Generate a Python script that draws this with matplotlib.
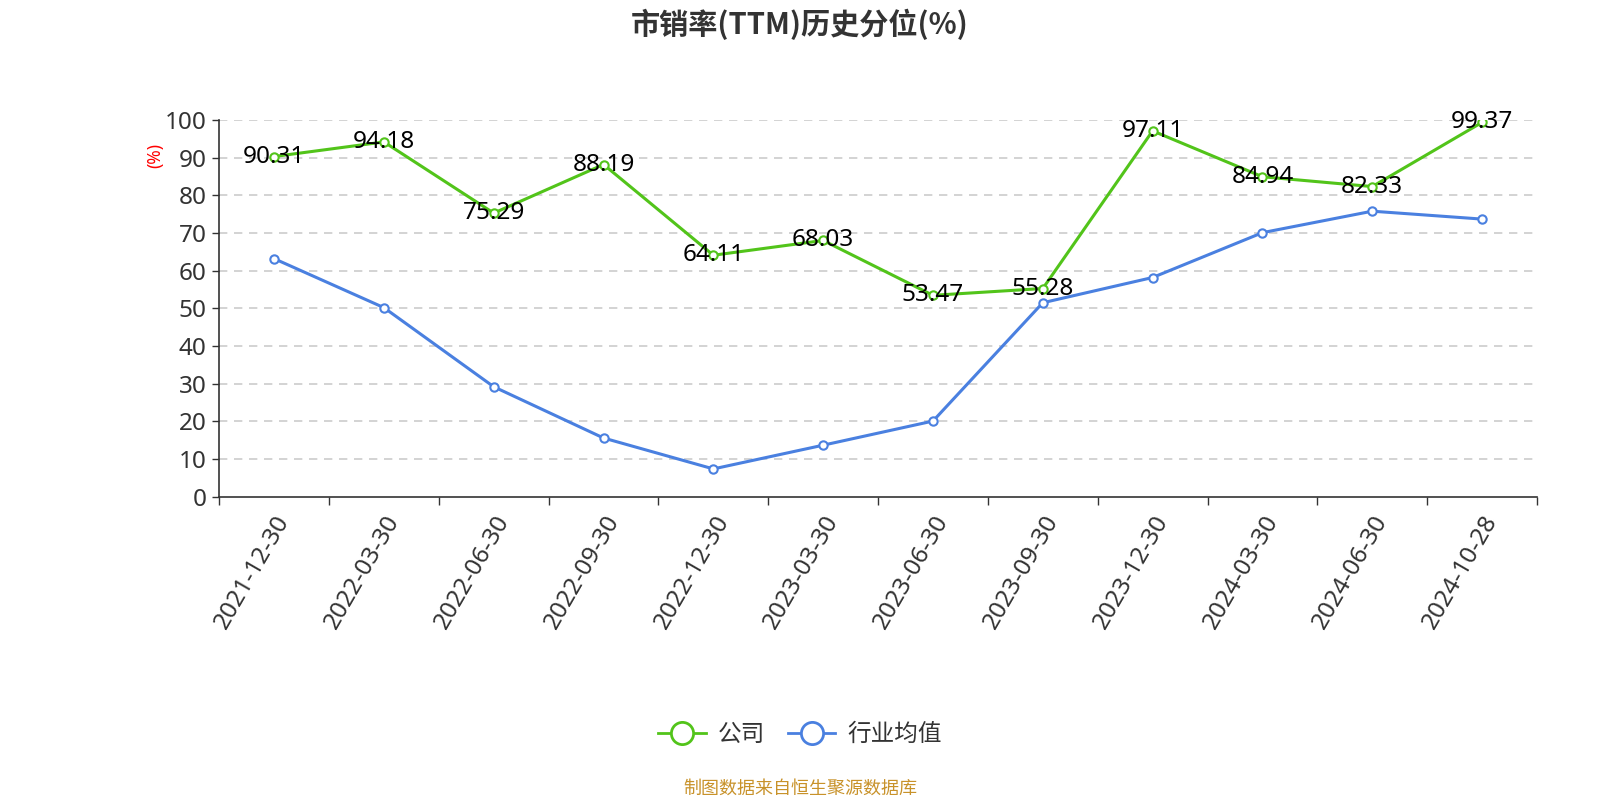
import matplotlib
matplotlib.use("Agg")
import matplotlib.pyplot as plt
from matplotlib.lines import Line2D

plt.rcParams["font.family"] = ["Noto Sans", "Noto Sans CJK SC", "DejaVu Sans"]

title = "市销率(TTM)历史分位(%)"
dates = [
    "2021-12-30", "2022-03-30", "2022-06-30", "2022-09-30",
    "2022-12-30", "2023-03-30", "2023-06-30", "2023-09-30",
    "2023-12-30", "2024-03-30", "2024-06-30", "2024-10-28",
]
company = [90.31, 94.18, 75.29, 88.19, 64.11, 68.03, 53.47, 55.28, 97.11, 84.94, 82.33, 99.37]
industry = [63.2, 50.2, 29.2, 15.6, 7.4, 13.7, 20.1, 51.5, 58.2, 70.1, 75.8, 73.7]
series_names = ["公司", "行业均值"]
yticks = [0, 10, 20, 30, 40, 50, 60, 70, 80, 90, 100]
source = "制图数据来自恒生聚源数据库"

green = "#52C41A"
blue = "#4A80E0"

fig = plt.figure(figsize=(16, 8), dpi=100)
ax = fig.add_axes([0.137, 0.379, 0.8236, 0.471])

x = list(range(len(dates)))

ax.plot(x, industry, color=blue, linewidth=2.2, marker="o", markersize=6,
        markerfacecolor="white", markeredgecolor=blue, markeredgewidth=1.5, zorder=3)
ax.plot(x, company, color=green, linewidth=2.2, marker="o", markersize=6,
        markerfacecolor="white", markeredgecolor=green, markeredgewidth=1.5, zorder=4)

for xi, v in zip(x, company):
    ax.text(xi, v, f"{v:.2f}", ha="center", va="center", fontsize=17.5,
            color="black", zorder=5)

ax.set_xlim(-0.5, len(dates) - 0.5)
ax.set_ylim(0, 100)
ax.set_yticks(yticks)
ax.set_yticklabels([str(t) for t in yticks], fontsize=17.5, color="#333333")
ax.tick_params(axis="y", length=5, width=1, color="#333333", pad=4)

ax.set_xticks(x)
ax.set_xticklabels(dates, rotation=60, ha="right", rotation_mode="anchor",
                   fontsize=17.5, color="#333333")
ax.tick_params(axis="x", which="major", length=0, pad=10)
ax.set_xticks([i - 0.5 for i in range(len(dates) + 1)], minor=True)
ax.tick_params(axis="x", which="minor", length=6, width=1, color="#333333")

for t in yticks[1:]:
    ax.axhline(t, color="#cccccc", linewidth=1.2, linestyle=(0, (5, 4)), zorder=1)

for side in ["top", "right"]:
    ax.spines[side].set_visible(False)
ax.spines["left"].set_color("#333333")
ax.spines["bottom"].set_color("#333333")
ax.spines["left"].set_linewidth(1.2)
ax.spines["bottom"].set_linewidth(1.2)

fig.text(0.097, 0.806, "(%)", color="red", fontsize=12.5, rotation=90,
         ha="center", va="center")

fig.text(0.5, 0.970, title, ha="center", va="center", fontsize=21,
         fontweight="bold", color="#333333",
         family=["Noto Sans CJK SC", "DejaVu Sans"])

handles = [
    Line2D([0], [0], color=green, linewidth=2, marker="o", markersize=16,
           markerfacecolor="white", markeredgecolor=green, markeredgewidth=2),
    Line2D([0], [0], color=blue, linewidth=2, marker="o", markersize=16,
           markerfacecolor="white", markeredgecolor=blue, markeredgewidth=2),
]
fig.legend(handles, series_names, loc="center", bbox_to_anchor=(0.5, 0.081),
           ncol=2, frameon=False, fontsize=17, handlelength=2.0,
           columnspacing=1.0, handletextpad=0.5, labelcolor="#333333")

fig.text(0.5, 0.014, source, ha="center", va="center", fontsize=13,
         color="#C8922A")

fig.savefig("out.png", dpi=100)
